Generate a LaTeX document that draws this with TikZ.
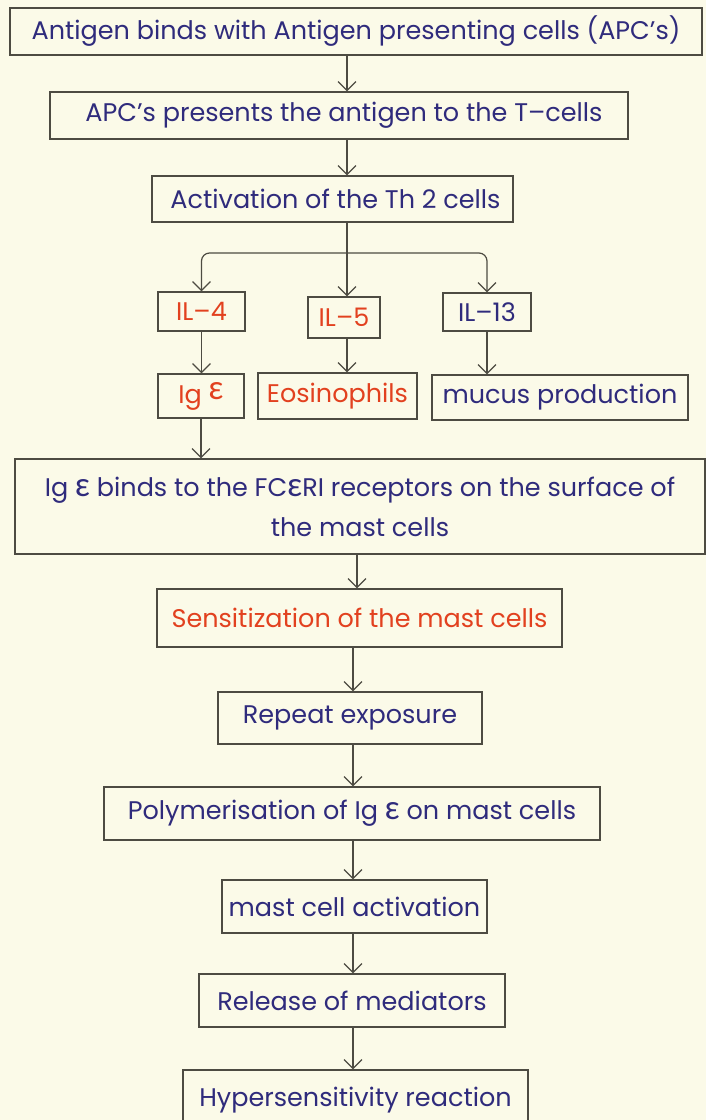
\documentclass[tikz,border=0pt]{standalone}
\usepackage{fontspec}
\setmainfont{Poppins}
\newfontfamily\greekfont{Lato}
% the open epsilon is written at capital height
\newcommand{\eps}{{\greekfont\fontsize{33}{40}\selectfont ε}}
\usetikzlibrary{arrows.meta}

\definecolor{paper}{HTML}{FBFAE8}
\definecolor{ink}{HTML}{2F2B7C}
\definecolor{redink}{HTML}{E2411F}
\definecolor{frame}{HTML}{4D4B42}

\tikzset{
  box/.style={draw=frame, line width=1.3pt, inner sep=0pt, align=center,
              text=ink, font=\fontsize{25.5}{40}\selectfont},
  hot/.style={text=redink},
  link/.style={draw=frame, line width=1.2pt},
  arr/.style={link, -{Straight Barb[length=9pt,width=18pt,line width=1.2pt]}}
}

\begin{document}
\begin{tikzpicture}[x=1pt,y=-1pt]
  \fill[paper] (0,0) rectangle (706,1120);
  \useasboundingbox (0,0) rectangle (706,1120);
  \clip (0,0) rectangle (706,1120);

  % reference lines for the connectors
  \coordinate (top) at (347,0);
  \coordinate (j) at (347,253);
  \coordinate (mid) at (357,0);
  \coordinate (low) at (353,0);

  % first stage
  \node[box, minimum width=692pt, minimum height=47pt] (b1) at (356,31.5)
    {Antigen binds with Antigen presenting cells (APC’s)};
  \node[box, minimum width=578pt, minimum height=47pt] (b2) at (339,115.5)
    {\hspace*{10pt}APC’s presents the antigen to the T–cells};
  \node[box, minimum width=361pt, minimum height=46pt] (b3) at (332.5,199)
    {\hspace*{6pt}Activation of the Th 2 cells};

  % cytokines
  \node[box, hot, minimum width=87pt, minimum height=39pt] (il4) at (201.5,311.5) {IL–4};
  \node[box, hot, minimum width=72pt, minimum height=41pt] (il5) at (344,317.5) {IL–5};
  \node[box, minimum width=88pt, minimum height=38pt] (il13) at (487,312) {IL–13};

  % their effects
  \node[box, hot, minimum width=86pt, minimum height=44pt] (ige) at (201,396)
    {Ig \raisebox{4pt}{\eps}};
  \node[box, hot, minimum width=159pt, minimum height=46pt] (eos) at (337.5,396) {Eosinophils};
  \node[box, minimum width=256pt, minimum height=45pt] (mucus) at (560,397.5) {mucus production};

  % mast cell chain
  \node[box, minimum width=690pt, minimum height=95pt] (b4) at (360,506.5)
    {Ig \eps{} binds to the FC\eps RI receptors on the surface of\\the mast cells};
  \node[box, hot, minimum width=405pt, minimum height=58pt] (sens) at (359.5,618)
    {Sensitization of the mast cells};
  \node[box, minimum width=264pt, minimum height=52pt] (rep) at (350,718)
    {Repeat exposure};
  \node[box, minimum width=496pt, minimum height=53pt] (poly) at (352,813.5)
    {Polymerisation of Ig \eps{} on mast cells};
  \node[box, minimum width=265pt, minimum height=53pt] (mca) at (354.5,906.5)
    {mast cell activation};
  \node[box, minimum width=306pt, minimum height=53pt] (rel) at (352,1000.5)
    {Release of mediators};
  \node[box, minimum width=345pt, minimum height=60pt] (hyp) at (355.5,1100)
    {Hypersensitivity reaction};

  % connectors
  \draw[arr] (top |- b1.south) -- (top |- b2.north);
  \draw[arr] (top |- b2.south) -- (top |- b3.north);
  \draw[link] (top |- b3.south) -- (j);
  \draw[arr] (j) -- (j |- il5.north);
  \draw[arr, rounded corners=8pt] (j) -| (il4.north);
  \draw[arr, rounded corners=8pt] (j) -| (il13.north);
  \draw[arr] (il4.south) -- (il4.south |- ige.north);
  \draw[arr] (j |- il5.south) -- (j |- eos.north);
  \draw[arr] (il13.south) -- (il13.south |- mucus.north);
  \draw[arr] (ige.south) -- (ige.south |- b4.north);
  \draw[arr] (mid |- b4.south) -- (mid |- sens.north);
  \draw[arr] (low |- sens.south) -- (low |- rep.north);
  \draw[arr] (low |- rep.south) -- (low |- poly.north);
  \draw[arr] (low |- poly.south) -- (low |- mca.north);
  \draw[arr] (low |- mca.south) -- (low |- rel.north);
  \draw[arr] (low |- rel.south) -- (low |- hyp.north);
\end{tikzpicture}
\end{document}
